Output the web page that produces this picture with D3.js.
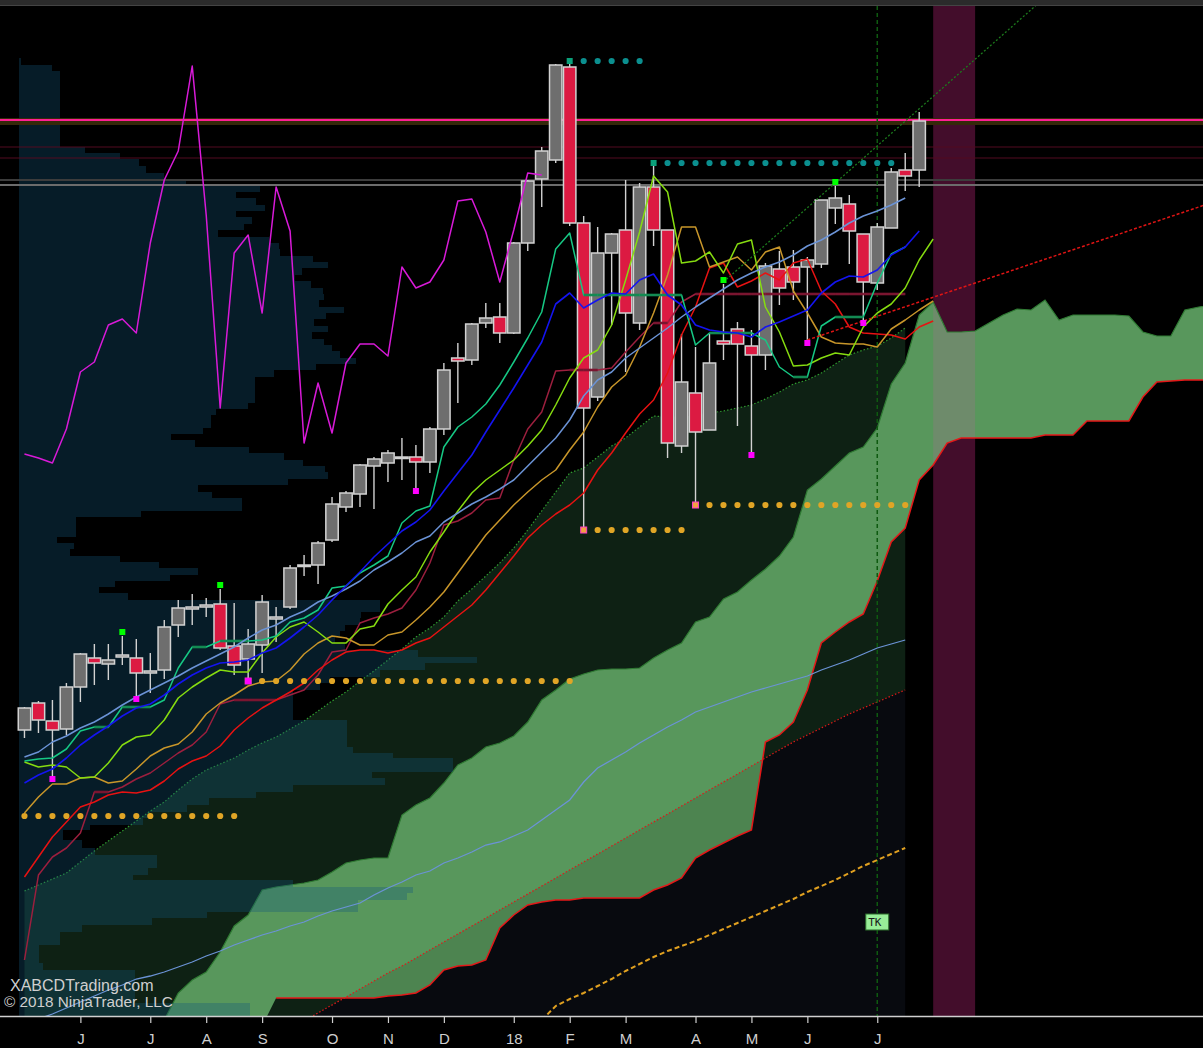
<!DOCTYPE html>
<html>
<head>
<meta charset="utf-8">
<script src="https://cdn.jsdelivr.net/npm/d3@7"></script>
<style>
  html, body { margin: 0; padding: 0; background: #000; }
  svg { display: block; }
</style>
</head>
<body>
<div id="chart"></div>
<script>

// month ticks (bar index of the first weekly bar in each month)
var tickBars = [4, 9, 13, 17, 22, 26, 30, 35, 39, 43, 48, 52, 56, 61];
var tickLabels = ["J", "J", "A", "S", "O", "N", "D", "18", "F", "M", "A", "M", "J", "J"];

// weekly OHLC
var opens = [2370, 2397, 2379, 2371, 2413, 2442, 2436, 2443, 2442, 2427, 2430, 2475, 2491, 2493, 2496, 2454, 2441, 2455, 2481, 2493,
  2534, 2535, 2560, 2593, 2606, 2634, 2637, 2642, 2643, 2638, 2671, 2742, 2740, 2777, 2783, 2767, 2857, 2921, 2940, 3033,
  2877, 2703, 2847, 2870, 2777, 2913, 2870, 2654, 2707, 2670, 2759, 2771, 2754, 2745, 2831, 2833, 2833, 2836, 2892, 2896,
  2866, 2817, 2872, 2930, 2930];
var highs = [2393, 2399, 2400, 2417, 2447, 2456, 2456, 2464, 2461, 2447, 2480, 2500, 2506, 2502, 2511, 2497, 2471, 2505, 2493, 2535,
  2545, 2559, 2603, 2609, 2636, 2643, 2650, 2662, 2655, 2673, 2737, 2757, 2777, 2797, 2797, 2858, 2920, 2953, 3036, 3037,
  2884, 2873, 2867, 2920, 2917, 2934, 2870, 2766, 2753, 2767, 2816, 2778, 2770, 2837, 2849, 2850, 2843, 2900, 2914, 2905,
  2866, 2877, 2932, 2947, 2988];
var lows = [2362, 2367, 2324, 2365, 2398, 2415, 2420, 2435, 2404, 2407, 2421, 2463, 2475, 2483, 2450, 2425, 2422, 2427, 2458, 2491,
  2524, 2516, 2558, 2588, 2593, 2591, 2618, 2620, 2612, 2627, 2665, 2697, 2735, 2772, 2757, 2766, 2849, 2893, 2937, 2874,
  2570, 2699, 2775, 2728, 2770, 2854, 2642, 2647, 2595, 2670, 2740, 2674, 2648, 2730, 2795, 2800, 2760, 2832, 2876, 2836,
  2780, 2810, 2872, 2909, 2913];
var closes = [2392, 2380, 2370, 2413, 2446, 2437, 2440, 2445, 2427, 2429, 2473, 2492, 2493, 2495, 2452, 2435, 2456, 2498, 2483, 2532,
  2535, 2557, 2596, 2607, 2635, 2641, 2647, 2643, 2638, 2671, 2730, 2739, 2776, 2782, 2767, 2857, 2919, 2949, 3035, 2877,
  2692, 2847, 2866, 2787, 2913, 2870, 2657, 2718, 2668, 2737, 2756, 2756, 2745, 2834, 2812, 2818, 2840, 2900, 2902, 2869,
  2818, 2873, 2928, 2924, 2979];

// swing signals
var highSignals = [7, 14, 50, 58];
var lowSignals = [2, 8, 16, 28, 52, 56, 60];

// swing low / swing high levels
var supportLevel = [2284, 2419, 2570, 2595];
var supportFrom = [0, 16, 40, 48];
var supportTo = [15, 39, 47, 63];
var supportPivot = [false, true, true, true];
var resistLevel = [3039, 2937];
var resistFrom = [39, 45];
var resistTo = [44, 62];

// horizontal levels
var darkRedLevels = [2953, 2942];
var grayLevels = [2920, 2915];

// trend lines (bar, price)
var upTrend = [[50, 2818], [58, 2917]];
var lowTrend = [[56, 2760], [60, 2779]];

// oscillator drawn on the price panel
var magentaOsc = [2646, 2642, 2637, 2671, 2728, 2738, 2775, 2781, 2767, 2857, 2920, 2949, 3034, 2885, 2692, 2847, 2865, 2787, 2913, 2869,
  2657, 2717, 2667, 2737, 2756, 2756, 2744, 2833, 2812, 2818, 2840, 2899, 2901, 2868, 2818, 2870, 2927, 2925];

var maSteel = [2343, 2348, 2358, 2364, 2372, 2378, 2386, 2395, 2403, 2410, 2417, 2424, 2432, 2439, 2446, 2453, 2462, 2470, 2475, 2483,
  2489, 2498, 2504, 2511, 2519, 2530, 2538, 2547, 2558, 2564, 2578, 2587, 2596, 2603, 2611, 2620, 2634, 2648, 2662, 2680,
  2704, 2720, 2728, 2742, 2752, 2762, 2772, 2783, 2793, 2802, 2811, 2820, 2827, 2833, 2838, 2845, 2854, 2860, 2868, 2877,
  2884, 2889, 2895, 2902];

var maBlue = [2317, 2325, 2331, 2342, 2355, 2365, 2374, 2384, 2392, 2396, 2405, 2416, 2425, 2432, 2437, 2438, 2440, 2447, 2452, 2462,
  2473, 2485, 2500, 2514, 2528, 2543, 2556, 2569, 2578, 2590, 2609, 2627, 2645, 2668, 2690, 2712, 2735, 2758, 2796, 2807,
  2792, 2800, 2807, 2806, 2820, 2826, 2805, 2795, 2775, 2770, 2768, 2767, 2763, 2773, 2778, 2784, 2790, 2807, 2818, 2824,
  2823, 2830, 2845, 2853, 2869];

var tenkan = [2339, 2341, 2342, 2351, 2369, 2373, 2373, 2393, 2393, 2393, 2400, 2432, 2453, 2453, 2459, 2459, 2459, 2460, 2464, 2478,
  2482, 2490, 2512, 2514, 2527, 2535, 2544, 2577, 2589, 2594, 2653, 2673, 2683, 2696, 2715, 2738, 2762, 2788, 2851, 2867,
  2805, 2805, 2805, 2805, 2805, 2805, 2805, 2805, 2755, 2767, 2767, 2767, 2767, 2760, 2733, 2723, 2723, 2774, 2783, 2783,
  2783, 2817, 2846, 2853];

var maLime = [2338, 2333, 2335, 2333, 2322, 2323, 2337, 2355, 2363, 2365, 2380, 2402, 2413, 2422, 2430, 2428, 2428, 2447, 2463, 2473,
  2478, 2468, 2457, 2457, 2471, 2474, 2496, 2510, 2523, 2548, 2568, 2589, 2607, 2620, 2630, 2640, 2654, 2670, 2695, 2722,
  2742, 2750, 2775, 2820, 2868, 2924, 2908, 2837, 2839, 2848, 2827, 2856, 2860, 2793, 2768, 2734, 2735, 2742, 2747, 2745,
  2773, 2787, 2796, 2812, 2840, 2861];

var maGold = [2287, 2303, 2316, 2316, 2322, 2323, 2317, 2319, 2331, 2344, 2352, 2356, 2368, 2386, 2397, 2405, 2414, 2418, 2419, 2430,
  2446, 2457, 2464, 2462, 2455, 2455, 2465, 2468, 2480, 2493, 2508, 2527, 2546, 2565, 2580, 2595, 2608, 2620, 2630, 2650,
  2668, 2693, 2713, 2725, 2753, 2787, 2825, 2873, 2873, 2833, 2838, 2843, 2830, 2848, 2853, 2809, 2787, 2763, 2757, 2756,
  2756, 2753, 2771, 2780, 2790, 2799];

var kijun = [2140, 2225, 2243, 2252, 2267, 2308, 2308, 2313, 2321, 2327, 2337, 2347, 2355, 2368, 2396, 2400, 2400, 2400, 2400, 2405,
  2410, 2425, 2448, 2450, 2477, 2482, 2486, 2492, 2510, 2537, 2575, 2579, 2587, 2600, 2602, 2640, 2671, 2688, 2729, 2730,
  2730, 2730, 2732, 2748, 2763, 2777, 2777, 2798, 2806, 2806, 2806, 2806, 2806, 2806, 2806, 2806, 2806, 2806, 2806, 2806,
  2806, 2806, 2806, 2806];

var maRed = [2223, 2243, 2263, 2278, 2293, 2298, 2305, 2308, 2307, 2310, 2319, 2331, 2339, 2344, 2354, 2370, 2382, 2392, 2400, 2408,
  2417, 2430, 2440, 2448, 2450, 2450, 2447, 2450, 2457, 2462, 2473, 2484, 2495, 2510, 2527, 2544, 2562, 2575, 2586, 2595,
  2607, 2630, 2647, 2667, 2686, 2700, 2727, 2765, 2793, 2832, 2837, 2813, 2819, 2827, 2820, 2837, 2841, 2809, 2796, 2773,
  2767, 2766, 2765, 2761, 2773, 2779];

var maLong = [2075, 2081, 2086, 2092, 2098, 2104, 2110, 2115, 2121, 2124, 2128, 2133, 2138, 2144, 2149, 2155, 2160, 2165, 2169, 2174,
  2178, 2184, 2189, 2193, 2197, 2205, 2212, 2218, 2225, 2229, 2237, 2242, 2248, 2255, 2258, 2264, 2270, 2280, 2290, 2300,
  2318, 2332, 2340, 2348, 2357, 2365, 2373, 2380, 2388, 2393, 2398, 2403, 2408, 2412, 2416, 2420, 2424, 2430, 2435, 2440,
  2446, 2452, 2456, 2460];

var goldTrend = [null, null, null, null, null, null, null, null, null, null, null, null, null, null, null, null, null, null, null, null,
  null, null, null, null, null, null, null, null, null, null, null, null, null, null, null, null, null, 2080, 2094, 2101,
  2107, 2114, 2121, 2129, 2136, 2143, 2149, 2154, 2159, 2165, 2171, 2177, 2183, 2189, 2195, 2201, 2208, 2214, 2220, 2227,
  2234, 2240, 2246, 2252];

// ichimoku cloud (spans run 22 bars past the last candle)
var spanA = [null, null, null, null, null, null, null, null, null, null,
  2080, 2107, 2120, 2128, 2148, 2174, 2185, 2210, 2213, 2215,
  2217, 2220, 2228, 2237, 2240, 2242, 2242, 2285, 2295, 2302,
  2317, 2335, 2342, 2353, 2357, 2364, 2378, 2400, 2410, 2421,
  2426, 2430, 2431, 2431, 2432, 2442, 2450, 2457, 2478, 2483,
  2501, 2508, 2520, 2531, 2544, 2563, 2610, 2621, 2634, 2647,
  2653, 2672, 2716, 2737, 2785, 2798, 2768, 2768, 2769, 2777,
  2785, 2791, 2790, 2800, 2780, 2785, 2785, 2785, 2785, 2784,
  2768, 2764, 2764, 2790, 2793, 2795];
var spanB = [null, null, null, null, null, null, null, null, null, null,
  null, null, null, null, null, null, null, null, 2102, 2102,
  2102, 2102, 2102, 2102, 2102, 2102, 2104, 2105, 2107, 2115,
  2130, 2134, 2135, 2140, 2172, 2185, 2195, 2198, 2200, 2200,
  2202, 2202, 2202, 2202, 2202, 2210, 2215, 2222, 2242, 2250,
  2257, 2264, 2270, 2358, 2365, 2378, 2410, 2457, 2468, 2478,
  2486, 2519, 2558, 2572, 2620, 2635, 2657, 2662, 2662, 2662,
  2662, 2662, 2662, 2665, 2665, 2665, 2679, 2679, 2679, 2679,
  2703, 2718, 2719, 2720, 2720, 2720];

// slower cloud
var cloud2Top = [2209, 2215, 2221, 2227, 2238, 2249, 2259, 2269, 2279, 2289, 2298, 2310, 2321, 2330, 2336, 2342, 2350, 2357, 2363, 2371,
  2379, 2389, 2399, 2408, 2419, 2429, 2440, 2451, 2463, 2472, 2483, 2499, 2511, 2524, 2537, 2552, 2570, 2589, 2608, 2627,
  2632, 2643, 2654, 2662, 2673, 2684, 2683, 2684, 2684, 2687, 2689, 2692, 2695, 2701, 2708, 2716, 2720, 2727, 2736, 2745,
  2750, 2754, 2762, 2772];
var cloud2Bottom = [null, null, null, null, null, null, null, null, null, null, null, null, null, null, null, null, null, null, null, null,
  2079, 2087, 2095, 2103, 2111, 2119, 2127, 2134, 2142, 2150, 2158, 2166, 2174, 2182, 2190, 2198, 2206, 2214, 2222, 2230,
  2238, 2246, 2254, 2262, 2270, 2278, 2286, 2294, 2302, 2310, 2318, 2326, 2334, 2342, 2350, 2358, 2365, 2372, 2379, 2386,
  2392, 2398, 2404, 2410];

// volume profile: price edges (top to bottom) and volume per row
var profileEdges = [3042, 3035, 3029, 2953, 2947, 2941, 2934, 2927, 2921, 2914, 2908, 2902, 2895, 2889, 2883, 2876, 2870, 2863, 2857, 2851,
  2844, 2838, 2832, 2825, 2819, 2812, 2806, 2800, 2793, 2787, 2781, 2774, 2768, 2761, 2755, 2749, 2742, 2736, 2730, 2723,
  2697, 2691, 2685, 2672, 2666, 2660, 2653, 2647, 2640, 2634, 2628, 2621, 2615, 2608, 2602, 2589, 2583, 2563, 2557, 2551,
  2544, 2538, 2532, 2525, 2519, 2513, 2507, 2500, 2488, 2482, 2475, 2469, 2463, 2457, 2450, 2443, 2437, 2430, 2423, 2417,
  2410, 2380, 2353, 2347, 2342, 2328, 2322, 2315, 2308, 2302, 2295, 2288, 2282, 2275, 2270, 2260, 2252, 2245, 2232, 2225,
  2220, 2213, 2207, 2200, 2188, 2182, 2175, 2168, 2155, 2137, 2130, 2097, 2084];
var profileVol = [2, 33, 41, 66, 101, 120, 127, 145, 167, 241, 217, 237, 246, 217, 233, 225, 199, 250, 260, 261,
  294, 309, 283, 276, 292, 304, 305, 300, 325, 307, 295, 309, 293, 305, 313, 321, 337, 297, 255, 236,
  229, 197, 192, 184, 152, 176, 230, 265, 284, 306, 309, 269, 179, 193, 223, 122, 57, 38, 55, 51,
  101, 140, 179, 151, 96, 80, 109, 361, 342, 341, 326, 321, 316, 326, 399, 458, 406, 361, 311, 301,
  274, 328, 334, 374, 434, 353, 366, 274, 237, 190, 168, 131, 124, 71, 44, 63, 76, 138, 129, 114,
  274, 394, 388, 339, 188, 133, 63, 41, 20, 24, 116, 231];

var tkBar = 61, tkPrice = 2178;
var shadeFrom = 65, shadeTo = 68;

// ---------------------------------------------------------------

var W = 1203, H = 1048;
var plotTop = 6, plotBottom = 1016;

var svg = d3.select("#chart").append("svg")
  .attr("width", W)
  .attr("height", H);

var x = d3.scaleLinear().domain([-1.75, 84.3]).range([0, W]);
var y = d3.scaleLinear().domain([2084, 3094]).range([plotBottom, plotTop]);
var vx = d3.scaleLinear().domain([0, 500]).range([19, 519]);

var defs = svg.append("defs");
defs.append("clipPath").attr("id", "plotClip")
  .append("rect").attr("x", 0).attr("y", plotTop).attr("width", W).attr("height", plotBottom - plotTop);
defs.append("clipPath").attr("id", "shadeClip")
  .append("rect").attr("x", x(shadeFrom)).attr("y", plotTop).attr("width", x(shadeTo) - x(shadeFrom)).attr("height", plotBottom - plotTop);

svg.append("rect").attr("width", W).attr("height", H).attr("fill", "#000");
svg.append("rect").attr("width", W).attr("height", plotTop).attr("fill", "#2b2b2b");
svg.append("line").attr("x1", 0).attr("x2", W).attr("y1", plotTop - 0.5).attr("y2", plotTop - 0.5)
  .attr("stroke", "#444").attr("stroke-width", 1);

var plot = svg.append("g").attr("clip-path", "url(#plotClip)");

function seq(arr) {
  return arr.map(function(v, i) { return [i, v]; });
}

// pieces of a series where the value stays flat from one bar to the next
function flats(arr) {
  var out = [];
  for (var i = 0; i < arr.length - 1; i++) {
    if (arr[i] != null && arr[i] === arr[i + 1]) out.push([[i, arr[i]], [i + 1, arr[i + 1]]]);
  }
  return out;
}

var line = d3.line()
  .defined(function(d) { return d[1] != null; })
  .x(function(d) { return x(d[0]); })
  .y(function(d) { return y(d[1]); });

// lower panel shade under the slow cloud
var belowArea = d3.area()
  .defined(function(d) { return d[1] != null; })
  .x(function(d) { return x(d[0]); })
  .y0(plotBottom + 10)
  .y1(function(d) { return y(d[1]); });

plot.append("path")
  .attr("d", belowArea(seq(cloud2Bottom)))
  .attr("fill", "#0a0c12");

// purple time shade
plot.append("rect")
  .attr("x", x(shadeFrom)).attr("width", x(shadeTo) - x(shadeFrom))
  .attr("y", plotTop).attr("height", plotBottom - plotTop)
  .attr("fill", "#430d2b");

// slow (dark) cloud
var darkArea = d3.area()
  .defined(function(d) { return d[1] != null; })
  .x(function(d) { return x(d[0]); })
  .y0(function(d) { return cloud2Bottom[d[0]] == null ? plotBottom + 10 : y(cloud2Bottom[d[0]]); })
  .y1(function(d) { return y(d[1]); });

plot.append("path")
  .attr("d", darkArea(seq(cloud2Top)))
  .attr("fill", "#0e2114");

// ichimoku cloud
var kumo = d3.area()
  .defined(function(d) { return d[1] != null; })
  .x(function(d) { return x(d[0]); })
  .y0(function(d) { return spanB[d[0]] == null ? plotBottom + 10 : y(spanB[d[0]]); })
  .y1(function(d) { return y(d[1]); });

plot.append("path")
  .attr("d", kumo(seq(spanA)))
  .attr("fill", "#58975c");

plot.append("path")
  .attr("d", belowArea(seq(cloud2Bottom)))
  .attr("fill", "#000")
  .attr("fill-opacity", 0.12);

plot.append("g").attr("clip-path", "url(#shadeClip)")
  .append("path")
  .attr("d", kumo(seq(spanA)))
  .attr("fill", "#6e8b6b");

plot.append("path")
  .attr("d", line(seq(spanA)))
  .attr("fill", "none")
  .attr("stroke", "#2f7a33")
  .attr("stroke-width", 1.2);

plot.append("path")
  .attr("d", line(seq(spanB)))
  .attr("fill", "none")
  .attr("stroke", "#e31818")
  .attr("stroke-width", 1.5);

plot.append("path")
  .attr("d", line(seq(cloud2Top)))
  .attr("fill", "none")
  .attr("stroke", "#2f9a2f")
  .attr("stroke-width", 1.2)
  .attr("stroke-dasharray", "1.5,2");

plot.append("path")
  .attr("d", line(seq(cloud2Bottom)))
  .attr("fill", "none")
  .attr("stroke", "#dd1a1a")
  .attr("stroke-width", 1.2)
  .attr("stroke-dasharray", "1.5,2");

// volume profile
plot.append("g")
  .attr("class", "profile")
  .selectAll("rect")
  .data(profileVol)
  .enter()
  .append("rect")
  .attr("x", vx(0))
  .attr("y", function(d, i) { return y(profileEdges[i]); })
  .attr("width", function(d) { return vx(d) - vx(0); })
  .attr("height", function(d, i) { return y(profileEdges[i + 1]) - y(profileEdges[i]); })
  .attr("fill", "rgb(19,87,125)")
  .attr("fill-opacity", 0.32)
  .attr("shape-rendering", "crispEdges");

// horizontal levels
var lastClose = closes[closes.length - 1];
plot.append("rect")
  .attr("x", 0).attr("width", W)
  .attr("y", y(lastClose + 3)).attr("height", y(lastClose - 4) - y(lastClose + 3))
  .attr("fill", "#35290a");
plot.append("line")
  .attr("x1", 0).attr("x2", W)
  .attr("y1", y(lastClose + 1)).attr("y2", y(lastClose + 1))
  .attr("stroke", "#ff1f93").attr("stroke-width", 1.8);

plot.selectAll(".lvlRed")
  .data(darkRedLevels)
  .enter()
  .append("line")
  .attr("x1", 0).attr("x2", W)
  .attr("y1", function(d) { return y(d); }).attr("y2", function(d) { return y(d); })
  .attr("stroke", "#520b20").attr("stroke-width", 1.2);

plot.selectAll(".lvlGray")
  .data(grayLevels)
  .enter()
  .append("line")
  .attr("x1", 0).attr("x2", W)
  .attr("y1", function(d) { return y(d); }).attr("y2", function(d) { return y(d); })
  .attr("stroke", function(d, i) { return i == 0 ? "#3c3c3c" : "#6c6c6c"; })
  .attr("stroke-width", 2);

// vertical dashed marker line
plot.append("line")
  .attr("x1", x(tkBar)).attr("x2", x(tkBar))
  .attr("y1", plotTop).attr("y2", plotBottom)
  .attr("stroke", "#0e5a10").attr("stroke-width", 1.5)
  .attr("stroke-dasharray", "4,3");

// long MA and bottom dashed line
plot.append("path")
  .attr("d", line(seq(maLong)))
  .attr("fill", "none").attr("stroke", "#6b93d6").attr("stroke-width", 1.3);

plot.append("path")
  .attr("d", line(seq(goldTrend)))
  .attr("fill", "none").attr("stroke", "#e0a020").attr("stroke-width", 2)
  .attr("stroke-dasharray", "5,3");

// candles
var bars = d3.range(opens.length);
var candle = plot.append("g").attr("class", "candles")
  .selectAll("g")
  .data(bars)
  .enter()
  .append("g");

candle.append("line")
  .attr("x1", function(i) { return x(i); })
  .attr("x2", function(i) { return x(i); })
  .attr("y1", function(i) { return y(highs[i]); })
  .attr("y2", function(i) { return y(lows[i]); })
  .attr("stroke", "#d2d2d2")
  .attr("stroke-width", 1.4);

candle.append("rect")
  .attr("x", function(i) { return x(i) - 6.2; })
  .attr("width", 12.4)
  .attr("y", function(i) { return y(Math.max(opens[i], closes[i])); })
  .attr("height", function(i) { return Math.max(1.5, Math.abs(y(opens[i]) - y(closes[i]))); })
  .attr("fill", function(i) { return closes[i] >= opens[i] ? "#6e6e6e" : "#dc1a42"; })
  .attr("stroke", "#d2d2d2")
  .attr("stroke-width", 1.5);

// moving averages
var maLines = [
  { data: kijun, color: "#9c1f3e", flat: "#7a1530", w: 1.5 },
  { data: maRed, color: "#e81212", w: 1.5 },
  { data: maGold, color: "#c8962a", w: 1.5 },
  { data: maLime, color: "#86dc10", w: 1.5 },
  { data: tenkan, color: "#16c884", flat: "#138a52", w: 1.5 },
  { data: maSteel, color: "#6b93d6", w: 1.5 },
  { data: maBlue, color: "#1414f0", w: 1.6 },
  { data: magentaOsc, color: "#d81ad8", w: 1.5 }
];

maLines.forEach(function(m) {
  plot.append("path")
    .attr("d", line(seq(m.data)))
    .attr("fill", "none")
    .attr("stroke", m.color)
    .attr("stroke-width", m.w)
    .attr("stroke-linejoin", "round");
  if (m.flat) {
    plot.append("g").selectAll("path")
      .data(flats(m.data))
      .enter()
      .append("path")
      .attr("d", line)
      .attr("fill", "none")
      .attr("stroke", m.flat)
      .attr("stroke-width", 2.6);
  }
});

// trend lines extended to the right edge
function extend(seg) {
  var slope = (seg[1][1] - seg[0][1]) / (seg[1][0] - seg[0][0]);
  var end = x.domain()[1];
  return [seg[0], [end, seg[0][1] + slope * (end - seg[0][0])]];
}

plot.append("path")
  .attr("d", line(extend(upTrend)))
  .attr("fill", "none").attr("stroke", "#1c7a1c").attr("stroke-width", 1.3)
  .attr("stroke-dasharray", "2,2");

plot.append("path")
  .attr("d", line(extend(lowTrend)))
  .attr("fill", "none").attr("stroke", "#e01414").attr("stroke-width", 1.5)
  .attr("stroke-dasharray", "3,2");

// swing low dots
supportLevel.forEach(function(lvl, k) {
  var start = supportPivot[k] ? supportFrom[k] + 1 : supportFrom[k];
  plot.append("g").selectAll("circle")
    .data(d3.range(start, supportTo[k] + 1))
    .enter()
    .append("circle")
    .attr("cx", function(i) { return x(i); })
    .attr("cy", y(lvl))
    .attr("r", 3.1)
    .attr("fill", "#e0a526");
  if (supportPivot[k]) {
    plot.append("rect")
      .attr("x", x(supportFrom[k]) - 3).attr("y", y(lvl) - 3)
      .attr("width", 6).attr("height", 6)
      .attr("fill", "#f0a040").attr("stroke", "#ff3cc8").attr("stroke-width", 1);
  }
});

// swing high dots
resistLevel.forEach(function(lvl, k) {
  plot.append("g").selectAll("circle")
    .data(d3.range(resistFrom[k] + 1, resistTo[k] + 1))
    .enter()
    .append("circle")
    .attr("cx", function(i) { return x(i); })
    .attr("cy", y(lvl))
    .attr("r", 3.1)
    .attr("fill", "#0b8f8f");
  plot.append("rect")
    .attr("x", x(resistFrom[k]) - 3).attr("y", y(lvl) - 3)
    .attr("width", 6).attr("height", 6)
    .attr("fill", "#0aa07a");
});

// signal markers
plot.append("g").selectAll("rect")
  .data(highSignals)
  .enter()
  .append("rect")
  .attr("x", function(i) { return x(i) - 3; })
  .attr("y", function(i) { return y(highs[i]) - 7; })
  .attr("width", 6).attr("height", 6)
  .attr("fill", "#00ff00");

plot.append("g").selectAll("rect")
  .data(lowSignals)
  .enter()
  .append("rect")
  .attr("x", function(i) { return x(i) - 3; })
  .attr("y", function(i) { return y(lows[i]); })
  .attr("width", 6).attr("height", 6)
  .attr("fill", "#ff00ff");

// TK tag
plot.append("rect")
  .attr("x", x(tkBar) - 11.5).attr("y", y(tkPrice) - 8)
  .attr("width", 23).attr("height", 16)
  .attr("fill", "#98ee98").attr("stroke", "#2a6a2a").attr("stroke-width", 1);
plot.append("text")
  .attr("x", x(tkBar) - 9).attr("y", y(tkPrice) + 4)
  .attr("fill", "#1a1a1a")
  .style("font-family", "'DejaVu Sans Mono', monospace")
  .style("font-size", "11px")
  .text("TK");

// axis
svg.append("line")
  .attr("x1", 0).attr("x2", W)
  .attr("y1", plotBottom + 0.5).attr("y2", plotBottom + 0.5)
  .attr("stroke", "#d0d0d0").attr("stroke-width", 1.5);

var xAxis = d3.axisBottom(x)
  .tickValues(tickBars)
  .tickFormat(function(d, i) { return tickLabels[i]; })
  .tickSize(6)
  .tickPadding(10);

var axisG = svg.append("g")
  .attr("transform", "translate(0," + (plotBottom + 1) + ")")
  .call(xAxis);
axisG.select(".domain").remove();
axisG.selectAll("line").attr("stroke", "#cfcfcf").attr("stroke-width", 1.2);
axisG.selectAll("text")
  .attr("fill", "#cfcfcf")
  .style("font-size", "15px")
  .style("font-family", "'Liberation Sans', Arial, sans-serif");

// watermark
svg.append("text")
  .attr("x", 10).attr("y", 991)
  .attr("fill", "#cfcfcf")
  .style("font-family", "'Liberation Sans', Arial, sans-serif")
  .style("font-size", "16px")
  .text("XABCDTrading.com");
svg.append("text")
  .attr("x", 4).attr("y", 1007)
  .attr("fill", "#cfcfcf")
  .style("font-family", "'Liberation Sans', Arial, sans-serif")
  .style("font-size", "15.3px")
  .text("\u00a9 2018 NinjaTrader, LLC");

</script>
</body>
</html>
